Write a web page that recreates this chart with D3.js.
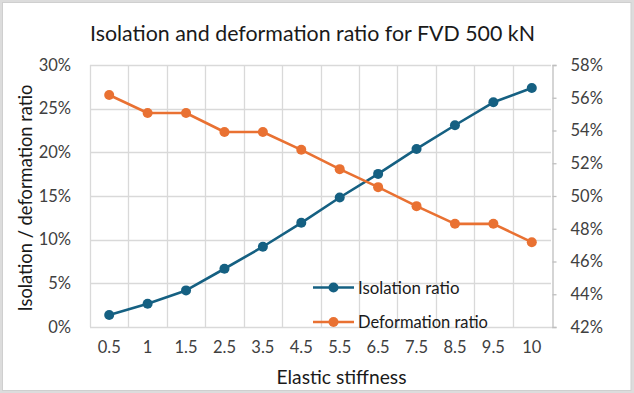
<!DOCTYPE html>
<html>
<head>
<meta charset="utf-8">
<script src="https://cdn.jsdelivr.net/npm/d3@7"></script>
<style>
  html, body { margin: 0; padding: 0; background: #fff; }
  svg { display: block; font-family: "Lato", "Open Sans", sans-serif; }
</style>
</head>
<body>
<svg id="chart" width="634" height="393"></svg>
<script>
const categories = ["0.5", "1", "1.5", "2.5", "3.5", "4.5", "5.5", "6.5", "7.5", "8.5", "9.5", "10"];
const isolationRatio = [0.0137, 0.0267, 0.0419, 0.0667, 0.0919, 0.1193, 0.1483, 0.1753, 0.2039, 0.2310, 0.2573, 0.2737];
const deformationRatio = [0.5617, 0.5507, 0.5507, 0.5391, 0.5391, 0.5282, 0.5164, 0.5054, 0.4938, 0.4830, 0.4830, 0.4718];
const leftTicks = [0, 0.05, 0.10, 0.15, 0.20, 0.25, 0.30];
const rightTicks = [0.42, 0.44, 0.46, 0.48, 0.50, 0.52, 0.54, 0.56, 0.58];
const seriesNames = ["Isolation ratio", "Deformation ratio"];
const titleText = "Isolation and deformation ratio for FVD 500 kN";
const xTitle = "Elastic stiffness";
const yTitle = "Isolation / deformation ratio";

const W = 634, H = 393;
const plot = { left: 90, right: 551, top: 65, bottom: 327 };
const colIso = "#156082", colDef = "#E97132";
const gridCol = "#d9d9d9", textCol = "#404040", titleCol = "#1a1a1a";
const FONT = "Lato, 'Open Sans', sans-serif";

const svg = d3.select("#chart");

// frame
svg.append("rect").attr("x", 0).attr("y", 0).attr("width", W).attr("height", H).attr("fill", "#dcdcdc");
svg.append("rect").attr("x", 2.5).attr("y", 2.5).attr("width", 628.5).attr("height", 388).attr("fill", "#fff").attr("stroke", "#cfcfcf").attr("stroke-width", 1);

const x = d3.scaleBand().domain(categories).range([plot.left, plot.right]).padding(0);
const yL = d3.scaleLinear().domain([0, 0.30]).range([plot.bottom, plot.top]);
const yR = d3.scaleLinear().domain([0.42, 0.58]).range([plot.bottom, plot.top]);
const pct = d3.format(".0%");

function fit(sel, target) {
  const w = sel.node().getComputedTextLength();
  const s = parseFloat(sel.attr("font-size"));
  sel.attr("font-size", s * target / w);
  return sel;
}

// horizontal gridlines
svg.append("g").selectAll("line").data(leftTicks.slice(1)).join("line")
  .attr("x1", plot.left).attr("x2", plot.right)
  .attr("y1", d => Math.round(yL(d)) + 0.5).attr("y2", d => Math.round(yL(d)) + 0.5)
  .attr("stroke", gridCol).attr("stroke-width", 1.3);

// vertical gridlines at band boundaries
const bounds = categories.map(c => x(c));
svg.append("g").selectAll("line").data(bounds).join("line")
  .attr("x1", d => Math.round(d) + 0.5).attr("x2", d => Math.round(d) + 0.5)
  .attr("y1", plot.top).attr("y2", plot.bottom)
  .attr("stroke", gridCol).attr("stroke-width", 1.3);

// bottom axis line
svg.append("line").attr("x1", plot.left).attr("x2", plot.right + 2)
  .attr("y1", plot.bottom + 0.5).attr("y2", plot.bottom + 0.5)
  .attr("stroke", gridCol).attr("stroke-width", 1.3);

// right axis
const rAxis = svg.append("g").attr("transform", `translate(${plot.right + 1.5},0)`)
  .call(d3.axisRight(yR).tickValues(rightTicks).tickFormat(pct).tickSize(4).tickPadding(14));
rAxis.select(".domain").attr("stroke", "#bfbfbf").attr("stroke-width", 1.3);
rAxis.selectAll(".tick line").attr("stroke", "#bfbfbf").attr("stroke-width", 1.3);
rAxis.selectAll("text").attr("fill", textCol).attr("font-size", 16.5).attr("font-family", FONT);

// left axis labels
const lAxis = svg.append("g").attr("transform", `translate(${plot.left},0)`)
  .call(d3.axisLeft(yL).tickValues(leftTicks).tickFormat(pct).tickSize(0).tickPadding(19));
lAxis.select(".domain").remove();
lAxis.selectAll("text").attr("fill", textCol).attr("font-size", 16.5).attr("font-family", FONT);

// bottom axis labels
const bAxis = svg.append("g").attr("transform", `translate(0,${plot.bottom})`)
  .call(d3.axisBottom(x).tickSize(0).tickPadding(14));
bAxis.select(".domain").remove();
bAxis.selectAll("text").attr("fill", textCol).attr("font-size", 16.5).attr("font-family", FONT);

// lines
const cx = c => x(c) + x.bandwidth() / 2;
const lineL = d3.line().x((d, i) => cx(categories[i])).y(d => yL(d));
const lineR = d3.line().x((d, i) => cx(categories[i])).y(d => yR(d));

svg.append("path").datum(isolationRatio).attr("d", lineL)
  .attr("fill", "none").attr("stroke", colIso).attr("stroke-width", 2.6).attr("stroke-linejoin", "round");
svg.append("g").selectAll("circle").data(isolationRatio).join("circle")
  .attr("cx", (d, i) => cx(categories[i])).attr("cy", d => yL(d)).attr("r", 5).attr("fill", colIso);

svg.append("path").datum(deformationRatio).attr("d", lineR)
  .attr("fill", "none").attr("stroke", colDef).attr("stroke-width", 2.6).attr("stroke-linejoin", "round");
svg.append("g").selectAll("circle").data(deformationRatio).join("circle")
  .attr("cx", (d, i) => cx(categories[i])).attr("cy", d => yR(d)).attr("r", 5).attr("fill", colDef);

// legend
const legend = [
  { name: seriesNames[0], color: colIso, y: 287.5, w: 101.5 },
  { name: seriesNames[1], color: colDef, y: 322, w: 130 }
];
legend.forEach(l => {
  svg.append("line").attr("x1", 313).attr("x2", 354).attr("y1", l.y).attr("y2", l.y)
    .attr("stroke", l.color).attr("stroke-width", 2.6);
  svg.append("circle").attr("cx", 333.5).attr("cy", l.y).attr("r", 5).attr("fill", l.color);
  const tx = svg.append("text").attr("x", 358).attr("y", l.y).attr("dy", "0.36em")
    .attr("font-size", 16.5).attr("fill", titleCol).text(l.name);
  fit(tx, l.w);
});

// title
const t = svg.append("text").attr("x", 312.5).attr("y", 41).attr("text-anchor", "middle")
  .attr("font-size", 22).attr("fill", titleCol).text(titleText);
fit(t, 445);

// x axis title
const xt = svg.append("text").attr("x", 341.5).attr("y", 384).attr("text-anchor", "middle")
  .attr("font-size", 17).attr("fill", titleCol).text(xTitle);
fit(xt, 130);

// y axis title
const yt = svg.append("text").attr("transform", "translate(32,198) rotate(-90)").attr("text-anchor", "middle")
  .attr("font-size", 17).attr("fill", titleCol).text(yTitle);
fit(yt, 227);
</script>
</body>
</html>
